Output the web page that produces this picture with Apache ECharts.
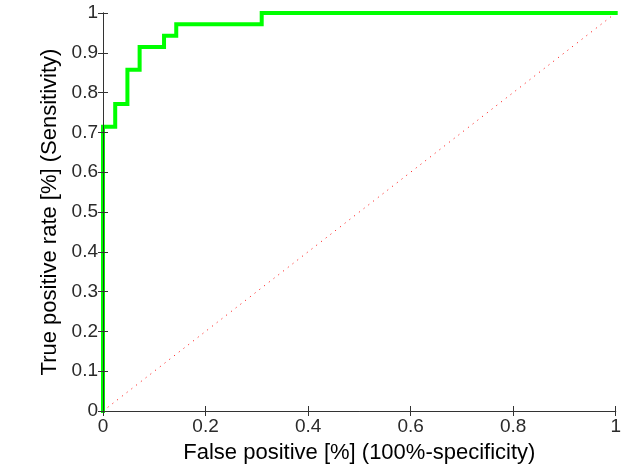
<!DOCTYPE html>
<html>
<head>
<meta charset="utf-8">
<script src="https://cdn.jsdelivr.net/npm/echarts@6/dist/echarts.min.js"></script>
<style>
html, body { margin: 0; padding: 0; background: #fff; }
#chart1 { width: 624px; height: 469px; }
</style>
</head>
<body>
<div id="chart1"></div>
<script>
// ROC curve corners (false positive rate, true positive rate)
var fprValues = [0, 0, 1/42, 1/42, 2/42, 2/42, 3/42, 3/42, 5/42, 5/42, 6/42, 6/42, 13/42, 13/42, 1];
var tprValues = [0, 25/35, 25/35, 27/35, 27/35, 30/35, 30/35, 32/35, 32/35, 33/35, 33/35, 34/35, 34/35, 1, 1];
// chance line
var diagX = [0, 1];
var diagY = [0, 1];
var tickLabels = ['0', '0.1', '0.2', '0.3', '0.4', '0.5', '0.6', '0.7', '0.8', '0.9', '1'];

var rocData = fprValues.map(function (x, i) { return [x, tprValues[i]]; });
var diagData = diagX.map(function (x, i) { return [x, diagY[i]]; });

var chart1 = echarts.init(document.getElementById('chart1'));
var font = 'Liberation Sans, Arial, sans-serif';
var axisCol = '#333';

function lbl(v) {
    return tickLabels[Math.round(v * 10)];
}

var option = {
    animation: false,
    backgroundColor: '#fff',
    grid: { left: 103, top: 13, right: 8, bottom: 56 },
    xAxis: [
        {
            type: 'value', min: 0, max: 1, interval: 0.2, position: 'bottom', z: 5,
            name: 'False positive [%] (100%-specificity)',
            nameLocation: 'middle', nameGap: 31,
            nameTextStyle: { fontFamily: font, fontSize: 22, color: '#000' },
            axisLine: { lineStyle: { color: axisCol, width: 1 } },
            axisTick: { inside: true, length: 5, lineStyle: { color: axisCol } },
            axisLabel: { fontFamily: font, fontSize: 19, color: '#2a2a2a', margin: 6, formatter: lbl },
            splitLine: { show: false }
        },
        {
            type: 'value', min: 0, max: 1, interval: 0.2, position: 'top', z: 5,
            axisLine: { lineStyle: { color: axisCol, width: 1 } },
            axisTick: { inside: true, length: 5, lineStyle: { color: axisCol } },
            axisLabel: { show: false },
            splitLine: { show: false }
        }
    ],
    yAxis: [
        {
            type: 'value', min: 0, max: 1, interval: 0.1, position: 'left', z: 5,
            name: 'True positive rate [%] (Sensitivity)',
            nameLocation: 'middle', nameGap: 38,
            nameTextStyle: { fontFamily: font, fontSize: 22, color: '#000' },
            axisLine: { lineStyle: { color: axisCol, width: 1 } },
            axisTick: { inside: true, length: 5, lineStyle: { color: axisCol } },
            axisLabel: { fontFamily: font, fontSize: 19, color: '#2a2a2a', margin: 5, formatter: lbl },
            splitLine: { show: false }
        },
        {
            type: 'value', min: 0, max: 1, interval: 0.1, position: 'right', z: 5,
            axisLine: { lineStyle: { color: axisCol, width: 1 } },
            axisTick: { inside: true, length: 5, lineStyle: { color: axisCol } },
            axisLabel: { show: false },
            splitLine: { show: false }
        }
    ],
    series: [
        {
            name: 'chance',
            type: 'line',
            data: diagData,
            showSymbol: false,
            z: 1,
            lineStyle: { color: '#ff0000', width: 1, type: [1, 5] }
        },
        {
            name: 'ROC',
            type: 'line',
            data: rocData,
            showSymbol: false,
            z: 2,
            lineStyle: { color: '#00ff00', width: 4, join: 'miter', cap: 'square' }
        }
    ]
};

chart1.setOption(option);
</script>
</body>
</html>
